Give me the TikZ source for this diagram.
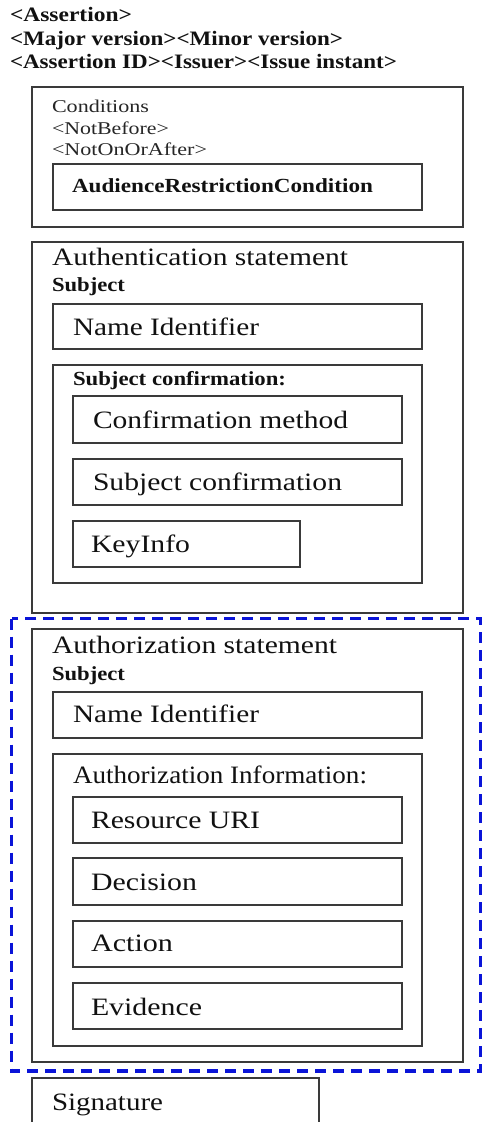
\documentclass[tikz,border=0pt]{standalone}
\usepackage{fontspec}
\setmainfont{Liberation Serif}
\usepackage{graphicx}
\definecolor{boxgray}{HTML}{3A3A3A}
\definecolor{inkblack}{HTML}{111111}
\definecolor{dashblue}{HTML}{0A14D8}
% set a label at a fixed printed width, keeping its height
\newcommand\fw[2]{\resizebox{#1pt}{\height}{#2}}
\newcommand\hdrfont{\fontsize{20.5}{24}\selectfont\bfseries}
\newcommand\smlfont{\fontsize{18}{21}\selectfont}
\newcommand\lrgfont{\fontsize{25}{28}\selectfont}
\newcommand\bsmfont{\fontsize{20}{23}\selectfont\bfseries}
\tikzset{
  box/.style={draw=boxgray, line width=1.3pt, fill=white, inner sep=0pt,
              anchor=north west, outer sep=0pt},
  lbl/.style={anchor=base west, inner sep=0pt, outer sep=0pt, text=inkblack},
  frame/.style={draw=dashblue, line width=3.4pt, dash pattern=on 11pt off 7pt}
}
\begin{document}
\begin{tikzpicture}[x=1pt, y=-1pt]
\useasboundingbox (0,0) rectangle (482,1122);
\clip (0,0) rectangle (482,1122);

% header lines
\node[lbl] (hA) at (10,21)   {\hdrfont\fw{122}{<Assertion>}};
\node[lbl] (hB) at (10,45.5) {\hdrfont\fw{333}{<Major version><Minor version>}};
\node[lbl] (hC) at (10,68)   {\hdrfont\fw{387}{<Assertion ID><Issuer><Issue instant>}};

% conditions
\node[box, minimum width=431pt, minimum height=140pt] (cond) at (32,87) {};
\node[box, minimum width=369pt, minimum height=46pt] (arc) at (53,164) {};
\node[lbl, text=black!85] (tcond) at (52,112.7) {\smlfont\fw{97}{Conditions}};
\node[lbl, text=black!85] (tnb)   at (52,134.3) {\smlfont\fw{117}{<NotBefore>}};
\node[lbl, text=black!85] (tnoa)  at (52,155)   {\smlfont\fw{155}{<NotOnOrAfter>}};
\node[lbl] (tarc) at (72,192.7) {\bsmfont\fw{301}{AudienceRestrictionCondition}};

% authentication statement
\node[box, minimum width=431pt, minimum height=371pt] (authn) at (32,242) {};
\node[box, minimum width=369pt, minimum height=45pt]  (nid1)  at (53,304) {};
\node[box, minimum width=369pt, minimum height=218pt] (scout) at (53,365) {};
\node[box, minimum width=329pt, minimum height=47pt]  (cm)    at (73,396) {};
\node[box, minimum width=329pt, minimum height=46pt]  (sci)   at (73,459) {};
\node[box, minimum width=227pt, minimum height=46pt]  (ki)    at (73,521) {};
\node[lbl] (tauthn) at (52,265)   {\lrgfont\fw{296}{Authentication statement}};
\node[lbl] (tsub1)  at (52,291.7) {\bsmfont\fw{73}{Subject}};
\node[lbl] (tnid1)  at (73,335)   {\lrgfont\fw{186}{Name Identifier}};
\node[lbl] (tscout) at (73,385)   {\bsmfont\fw{213}{Subject confirmation:}};
\node[lbl] (tcm)    at (93,428.3) {\lrgfont\fw{255}{Confirmation method}};
\node[lbl] (tsci)   at (93,490)   {\lrgfont\fw{249}{Subject confirmation}};
\node[lbl] (tki)    at (91,552.7) {\lrgfont\fw{99}{KeyInfo}};

% authorization statement
\node[box, minimum width=431pt, minimum height=433pt] (authz) at (32,629) {};
\node[box, minimum width=369pt, minimum height=46pt]  (nid2)  at (53,692) {};
\node[box, minimum width=369pt, minimum height=292pt] (aiout) at (53,754) {};
\node[box, minimum width=329pt, minimum height=46pt]  (ruri)  at (73,797) {};
\node[box, minimum width=329pt, minimum height=47pt]  (dec)   at (73,858) {};
\node[box, minimum width=329pt, minimum height=46pt]  (act)   at (73,921) {};
\node[box, minimum width=329pt, minimum height=46pt]  (evi)   at (73,983) {};
\node[lbl] (tauthz) at (52,653.3) {\lrgfont\fw{285}{Authorization statement}};
\node[lbl] (tsub2)  at (52,680)   {\bsmfont\fw{73}{Subject}};
\node[lbl] (tnid2)  at (73,722.7) {\lrgfont\fw{186}{Name Identifier}};
\node[lbl] (tai)    at (73,783.3) {\lrgfont\fw{294}{Authorization Information:}};
\node[lbl] (truri)  at (91,828.3) {\lrgfont\fw{169}{Resource URI}};
\node[lbl] (tdec)   at (91,890.7) {\lrgfont\fw{106}{Decision}};
\node[lbl] (tact)   at (91,951.7) {\lrgfont\fw{82}{Action}};
\node[lbl] (tevi)   at (91,1015)  {\lrgfont\fw{111}{Evidence}};

% highlight around the authorization statement
\draw[frame] (11.5,618.5) rectangle (480.5,1071);

% signature
\node[box, minimum width=287pt, minimum height=60pt] (sig) at (32,1078) {};
\node[lbl] (tsig) at (52,1110) {\lrgfont\fw{111}{Signature}};
\end{tikzpicture}
\end{document}
